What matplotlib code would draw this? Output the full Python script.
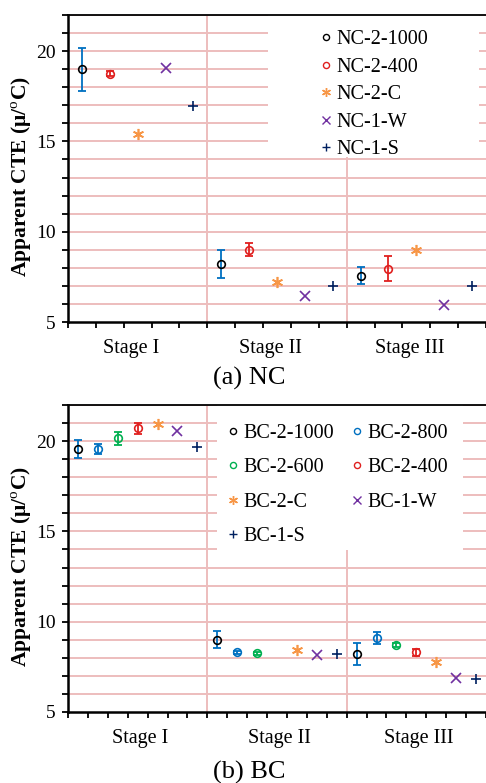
import numpy as np
import matplotlib
matplotlib.use("Agg")
import matplotlib.pyplot as plt
from matplotlib.patches import Rectangle
from matplotlib.lines import Line2D

plt.rcParams["font.family"] = ["Liberation Serif", "DejaVu Serif"]
plt.rcParams["mathtext.fontset"] = "custom"
plt.rcParams["mathtext.rm"] = "Liberation Serif"
plt.rcParams["mathtext.bf"] = "Liberation Serif:bold"

stages = ["Stage I", "Stage II", "Stage III"]

# NC specimens: mean apparent CTE per stage and standard deviation
nc_names = ["NC-2-1000", "NC-2-400", "NC-2-C", "NC-1-W", "NC-1-S"]
nc_2_1000 = [19.0, 8.2, 7.55]
nc_2_1000_err = [1.2, 0.77, 0.47]
nc_2_400 = [18.75, 9.0, 7.95]
nc_2_400_err = [0.15, 0.37, 0.68]
nc_2_c = [15.4, 7.2, 9.0]
nc_1_w = [19.05, 6.45, 5.95]
nc_1_s = [16.95, 7.0, 7.0]

# BC specimens
bc_names = ["BC-2-1000", "BC-2-800", "BC-2-600", "BC-2-400", "BC-2-C", "BC-1-W", "BC-1-S"]
bc_2_1000 = [19.55, 9.0, 8.2]
bc_2_1000_err = [0.5, 0.47, 0.62]
bc_2_800 = [19.55, 8.3, 9.1]
bc_2_800_err = [0.28, 0.1, 0.35]
bc_2_600 = [20.15, 8.25, 8.7]
bc_2_600_err = [0.35, 0.08, 0.12]
bc_2_400 = [20.7, np.nan, 8.3]
bc_2_400_err = [0.3, np.nan, 0.2]
bc_2_c = [20.95, 8.45, 7.75]
bc_1_w = [20.55, 8.15, 6.9]
bc_1_s = [19.65, 8.2, 6.8]

BLACK = "#000000"
BLUE = "#0070C0"
RED = "#E0201F"
GREEN = "#00B050"
ORANGE = "#F79646"
PURPLE = "#7030A0"
NAVY = "#002060"
GRID = "#EDBDBD"
ASTER = (6, 2, 0)

# (values, errors, marker, marker colour, errorbar colour, marker size)
nc_series = [
    (nc_2_1000, nc_2_1000_err, "o", BLACK, BLUE, 5.5),
    (nc_2_400, nc_2_400_err, "o", RED, RED, 5.5),
    (nc_2_c, None, ASTER, ORANGE, ORANGE, 8),
    (nc_1_w, None, "x", PURPLE, PURPLE, 7.5),
    (nc_1_s, None, "+", NAVY, NAVY, 7.5),
]
bc_series = [
    (bc_2_1000, bc_2_1000_err, "o", BLACK, BLUE, 5.5),
    (bc_2_800, bc_2_800_err, "o", BLUE, BLUE, 5.5),
    (bc_2_600, bc_2_600_err, "o", GREEN, GREEN, 5.5),
    (bc_2_400, bc_2_400_err, "o", RED, RED, 5.5),
    (bc_2_c, None, ASTER, ORANGE, ORANGE, 8),
    (bc_1_w, None, "x", PURPLE, PURPLE, 7.5),
    (bc_1_s, None, "+", NAVY, NAVY, 7.5),
]

fig = plt.figure(figsize=(4.86, 7.83), dpi=100)
W, H = 486, 783


def px_axes(x0, y0, x1, y1):
    return fig.add_axes([x0 / W, 1 - y1 / H, (x1 - x0) / W, (y1 - y0) / H])


def draw_panel(ax, series, names, box, legend_kw, label_shift, order):
    n = len(series)
    nslots = n * len(stages)
    ax.set_xlim(0, nslots)
    ax.set_ylim(5, 22)

    # horizontal grid at every unit, stage separators
    for yv in range(6, 23):
        ax.axhline(yv, color=GRID, lw=1.4, zorder=0)
    for s in range(1, len(stages)):
        ax.axvline(s * n, color=GRID, lw=1.4, zorder=0)

    # white legend area hiding the grid behind it
    bx0, by0, bx1, by1 = box
    ax.add_patch(Rectangle((bx0, by0), bx1 - bx0, by1 - by0,
                           transform=ax.transAxes, facecolor="white",
                           edgecolor="none", zorder=1))

    handles = []
    for i, (vals, err, mk, mc, ec, ms) in enumerate(series):
        xs = np.arange(len(stages)) * n + i + 0.5
        vals = np.asarray(vals, float)
        if err is not None:
            ax.errorbar(xs, vals, yerr=np.asarray(err, float), fmt="none",
                        ecolor=ec, elinewidth=1.3, capsize=2.8,
                        capthick=1.3, zorder=3)
        filled = mk in ("x", "+") or isinstance(mk, tuple)
        ax.plot(xs, vals, linestyle="none", marker=mk, markersize=ms,
                markerfacecolor="none" if not filled else mc,
                markeredgecolor=mc, markeredgewidth=1.2, zorder=4)
        handles.append(Line2D([], [], linestyle="none", marker=mk,
                              markersize=ms * 0.8,
                              markerfacecolor="none" if not filled else mc,
                              markeredgecolor=mc, markeredgewidth=1.0))

    leg = ax.legend([handles[k] for k in order], [names[k] for k in order],
                    frameon=False, fontsize=14.5, handlelength=0.6,
                    handletextpad=0.2, borderaxespad=0, borderpad=0,
                    **legend_kw)
    leg.set_zorder(5)

    ax.set_xticks(np.arange(0, nslots + 1))
    ax.set_xticklabels([])
    ax.set_yticks([5, 10, 15, 20])
    ax.set_yticks(np.arange(5, 23), minor=True)
    ax.tick_params(axis="both", which="both", direction="out", length=4,
                   width=1.3, color="black")
    ax.tick_params(axis="y", which="major", labelsize=14, pad=5)
    ax.tick_params(axis="x", which="minor", bottom=False)

    for s, name in enumerate(stages):
        ax.text((s + 0.5) * n + label_shift, -0.085, name,
                transform=ax.get_xaxis_transform(), ha="center", va="center",
                fontsize=14.5)

    ax.spines["right"].set_visible(False)
    ax.spines["left"].set_linewidth(1.8)
    ax.spines["bottom"].set_linewidth(1.8)
    ax.spines["top"].set_linewidth(1.3)
    ax.set_ylabel(r"Apparent CTE (μ/$^{\mathrm{o}}$C)", fontsize=15.5,
                  fontweight="bold")
    ax.yaxis.set_label_coords(-0.081, 0.474)


ax1 = px_axes(68, 15, 486, 322)
draw_panel(ax1, nc_series, nc_names,
           ((268 - 68) / 418, (322 - 157) / 307, (479 - 68) / 418, 1.0),
           dict(loc="upper left", bbox_to_anchor=((320 - 68) / 418, (322 - 30) / 307),
                labelspacing=0.42, ncol=1),
           -0.25, [0, 1, 2, 3, 4])

ax2 = px_axes(68, 405, 486, 712)
draw_panel(ax2, bc_series, bc_names,
           ((217 - 68) / 418, (712 - 550) / 307, (463 - 68) / 418, 1.0),
           dict(loc="upper left", bbox_to_anchor=((227 - 68) / 418, (712 - 424) / 307),
                labelspacing=0.76, ncol=2, columnspacing=0.85),
           0.1, [0, 2, 4, 6, 1, 3, 5])

fig.text(249 / W, 1 - 378 / H, "(a) NC", ha="center", va="center", fontsize=19)
fig.text(249 / W, 1 - 772 / H, "(b) BC", ha="center", va="center", fontsize=19)

fig.savefig("out.png", dpi=100)
